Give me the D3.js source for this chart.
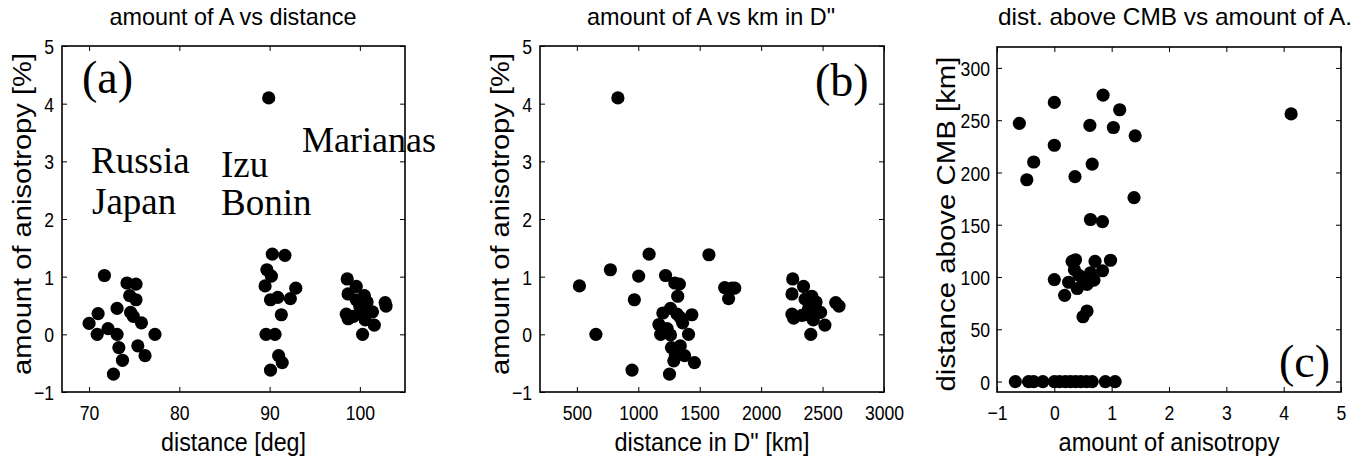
<!DOCTYPE html>
<html>
<head>
<meta charset="utf-8">
<script src="https://cdn.jsdelivr.net/npm/d3@7"></script>
<style>
  body { margin: 0; background: #fff; }
  svg { display: block; }
  text { font-family: "Liberation Sans", Arial, sans-serif; fill: #000; }
  .serif { font-family: "Liberation Serif", "Times New Roman", serif; }
</style>
</head>
<body>
<div id="chart"></div>
<script>
// panel (a): distance [deg] vs amount of anisotropy [%]
const distDeg = [71.7, 71.0, 70.0, 70.9, 72.1, 73.1, 73.1, 73.3, 73.7, 72.7,
  74.2, 75.2, 74.5, 75.2, 74.6, 74.9, 75.8, 75.4, 76.2, 77.3,
  90.3, 91.7, 89.7, 90.2, 89.5, 92.9, 90.1, 90.9, 92.3, 91.3, 89.6, 90.6, 91.0, 91.4, 90.1, 89.9,
  98.6, 99.6, 98.7, 100.5, 99.6, 100.8, 102.8, 102.9, 98.5, 98.7, 99.3, 100.1, 100.7, 101.4, 100.6, 101.6, 100.3, 100.0];
const anisoA = [1.02, 0.36, 0.19, 0.0, 0.10, 0.0, 0.45, -0.23, -0.45, -0.69,
  0.89, 0.87, 0.67, 0.60, 0.38, 0.31, 0.20, -0.20, -0.37, 0.0,
  1.39, 1.37, 1.12, 1.01, 0.84, 0.80, 0.60, 0.64, 0.62, 0.34, 0.0, 0.0, -0.37, -0.49, -0.62, 4.1,
  0.96, 0.83, 0.70, 0.67, 0.60, 0.56, 0.55, 0.49, 0.35, 0.27, 0.31, 0.42, 0.40, 0.39, 0.25, 0.16, 0.0, 0.48];

// panel (b): distance in D" [km] vs amount of anisotropy [%]
const distKm = [521, 655, 773, 949, 968, 1003, 1088, 1222, 1297, 1334,
  1321, 1200, 1262, 1316, 1342, 1436, 1168, 1235, 1361, 1182,
  1262, 1409, 1270, 1342, 1302, 1377, 1289, 1457, 1254, 1575,
  1703, 1762, 1785, 1735, 834,
  2257, 2345, 2251, 2412, 2358, 2447, 2607, 2634, 2251, 2265, 2332, 2385, 2425, 2484, 2425, 2519, 2404, 2366];
const anisoB = [0.84, 0.0, 1.12, -0.62, 0.60, 1.01, 1.39, 1.02, 0.89, 0.87,
  0.66, 0.37, 0.45, 0.35, 0.29, 0.34, 0.17, 0.10, 0.20, 0.0,
  -0.01, 0.0, -0.23, -0.20, -0.36, -0.37, -0.46, -0.49, -0.69, 1.38,
  0.81, 0.80, 0.80, 0.62, 4.1,
  0.96, 0.83, 0.70, 0.66, 0.61, 0.56, 0.55, 0.49, 0.35, 0.28, 0.33, 0.44, 0.41, 0.38, 0.25, 0.16, 0.0, 0.34];

// panel (c): amount of anisotropy vs distance above CMB [km]
const anisoC = [-0.61, 0.0, -0.48, -0.36, 0.0, 0.36, 0.62, 0.66, 0.85, 1.03, 1.14, 1.41, 1.39, 0.63, 0.84, 4.13,
  0.0, 0.18, 0.25, 0.31, 0.37, 0.35, 0.40, 0.43, 0.57, 0.63, 0.69, 0.71, 0.84, 0.98, 0.50, 0.57, 0.51,
  -0.68, -0.45, -0.36, -0.20, 0.0, 0.09, 0.19, 0.28, 0.37, 0.46, 0.56, 0.66, 0.89, 1.06];
const heightCMB = [247, 267, 193, 210, 226, 196, 245, 208, 274, 243, 260, 235, 176, 155, 153, 256,
  97.5, 82.5, 95, 115, 116.5, 107, 89, 101.6, 93, 104, 97, 115, 106, 116, 62, 67.5, 97.5,
  0, 0, 0, 0, 0, 0, 0, 0, 0, 0, 0, 0, 0, 0];

const ticksDeg = [70, 80, 90, 100];
const ticksKm = [500, 1000, 1500, 2000, 2500, 3000];
const ticksAniso = [-1, 0, 1, 2, 3, 4, 5];
const ticksCMB = [0, 50, 100, 150, 200, 250, 300];

const W = 1357, H = 464;
const svg = d3.select("#chart").append("svg").attr("width", W).attr("height", H);
const fmt = d3.format("d");

const panels = [
  { left: 62, right: 405, top: 46, bottom: 392, xd: [67, 105], yd: [-1, 5],
    xs: distDeg, ys: anisoA, xt: ticksDeg, yt: ticksAniso,
    title: "amount of A vs distance", titleLen: 247, titleX: 233,
    xlab: "distance [deg]", xlabLen: 145,
    ylab: "amount of anisotropy [%]", ylabX: 30.5, ylabY: 214, ylabLen: 322, yPad: 8 },
  { left: 540, right: 884, top: 46, bottom: 392, xd: [200, 3000], yd: [-1, 5],
    xs: distKm, ys: anisoB, xt: ticksKm, yt: ticksAniso,
    title: "amount of A vs km in D\"", titleLen: 248, titleX: 711,
    xlab: "distance in D\" [km]", xlabLen: 195,
    ylab: "amount of anisotropy [%]", ylabX: 508.5, ylabY: 214, ylabLen: 322, yPad: 8 },
  { left: 997, right: 1341, top: 47, bottom: 392, xd: [-1, 5], yd: [-10, 320],
    xs: anisoC, ys: heightCMB, xt: ticksAniso, yt: ticksCMB,
    title: "dist. above CMB vs amount of A.", titleLen: 354, titleX: 1175,
    xlab: "amount of anisotropy", xlabLen: 221,
    ylab: "distance above CMB [km]", ylabX: 955, ylabY: 224, ylabLen: 335, yPad: 7 }
];

panels.forEach(p => {
  const x = d3.scaleLinear().domain(p.xd).range([p.left, p.right]);
  const y = d3.scaleLinear().domain(p.yd).range([p.bottom, p.top]);

  // points
  svg.append("g").selectAll("circle")
    .data(p.xs.map((v, i) => [v, p.ys[i]]))
    .join("circle")
    .attr("cx", d => x(d[0]))
    .attr("cy", d => y(d[1]))
    .attr("r", 6.6)
    .attr("fill", "#000");

  // inward ticks on all four sides
  const bottomAx = svg.append("g")
    .attr("transform", "translate(0," + p.bottom + ")")
    .call(d3.axisBottom(x).tickValues(p.xt).tickFormat(fmt).tickSize(-5).tickPadding(0));
  const leftAx = svg.append("g")
    .attr("transform", "translate(" + p.left + ",0)")
    .call(d3.axisLeft(y).tickValues(p.yt).tickFormat(fmt).tickSize(-5).tickPadding(0));
  svg.append("g")
    .attr("transform", "translate(0," + p.top + ")")
    .call(d3.axisTop(x).tickValues(p.xt).tickSize(-5).tickFormat(""));
  svg.append("g")
    .attr("transform", "translate(" + p.right + ",0)")
    .call(d3.axisRight(y).tickValues(p.yt).tickSize(-5).tickFormat(""));

  svg.selectAll(".domain").remove();
  svg.selectAll(".tick line").attr("stroke", "#000").attr("stroke-width", 1);

  bottomAx.selectAll("text")
    .attr("y", 28).attr("dy", 0)
    .style("font-size", "21px")
    .attr("transform", "scale(0.84,1)");
  leftAx.selectAll("text")
    .attr("x", -p.yPad / 0.84).attr("dy", "0.36em")
    .style("font-size", "21px")
    .attr("transform", "scale(0.84,1)");

  // box
  svg.append("rect")
    .attr("x", p.left).attr("y", p.top)
    .attr("width", p.right - p.left).attr("height", p.bottom - p.top)
    .attr("fill", "none").attr("stroke", "#000").attr("stroke-width", 1.6);

  // title
  svg.append("text")
    .attr("x", p.titleX).attr("y", 25)
    .attr("text-anchor", "middle")
    .attr("textLength", p.titleLen).attr("lengthAdjust", "spacingAndGlyphs")
    .style("font-size", "24px")
    .text(p.title);

  // x label
  svg.append("text")
    .attr("x", (p.left + p.right) / 2).attr("y", 451)
    .attr("text-anchor", "middle")
    .attr("textLength", p.xlabLen).attr("lengthAdjust", "spacingAndGlyphs")
    .style("font-size", "26px")
    .text(p.xlab);

  // y label
  svg.append("text")
    .attr("transform", "translate(" + p.ylabX + "," + p.ylabY + ") rotate(-90)")
    .attr("text-anchor", "middle")
    .attr("textLength", p.ylabLen).attr("lengthAdjust", "spacingAndGlyphs")
    .style("font-size", "26px")
    .text(p.ylab);
});

// annotations
const notes = [
  { t: "(a)", x: 82, y: 93, s: 46 },
  { t: "(b)", x: 815, y: 96, s: 46 },
  { t: "(c)", x: 1279, y: 377, s: 46 },
  { t: "Russia", x: 91, y: 173, s: 37 },
  { t: "Japan", x: 92, y: 214, s: 37 },
  { t: "Izu", x: 221, y: 177, s: 37 },
  { t: "Bonin", x: 221, y: 215, s: 37 },
  { t: "Marianas", x: 302, y: 152, s: 36 }
];
svg.append("g").selectAll("text")
  .data(notes)
  .join("text")
  .attr("class", "serif")
  .attr("x", d => d.x).attr("y", d => d.y)
  .style("font-size", d => d.s + "px")
  .text(d => d.t);
</script>
</body>
</html>
